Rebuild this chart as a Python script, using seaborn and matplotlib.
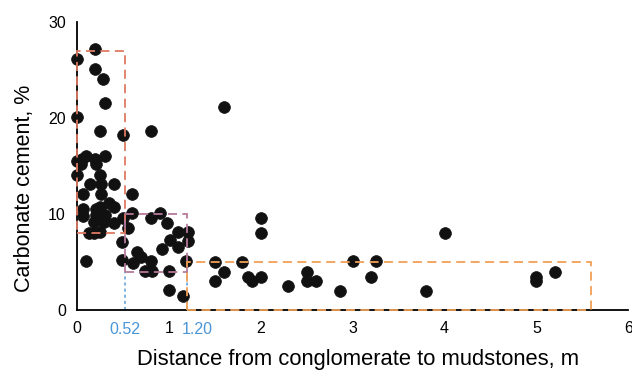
import matplotlib
matplotlib.use("Agg")
import matplotlib.pyplot as plt
import matplotlib.transforms as mtransforms
import seaborn as sns
import pandas as pd
from matplotlib.ticker import MultipleLocator
from matplotlib.patches import Rectangle

# Data: distance (m) and carbonate cement (%)
distance = [
    0.20, 0.00, 0.20, 0.28, 0.30, 0.00, 0.25, 0.50, 0.10, 0.30,
    0.05, 0.20, 0.00, 0.04, 0.21, 0.00, 0.25, 0.14, 0.26, 0.40,
    0.06, 0.26, 0.35, 0.06, 0.21, 0.25, 0.40, 0.06, 0.21, 0.30,
    0.18, 0.29, 0.40, 0.50, 0.13, 0.18, 0.25, 0.10, 0.49, 0.49,
    0.60, 0.60, 0.80, 0.80, 0.90, 0.98, 0.55, 1.10, 1.21, 0.92,
    1.01, 1.10, 1.21, 0.65, 0.70, 0.80, 0.61, 0.74, 0.81, 1.00,
    1.19, 1.00, 1.15,
    1.60, 2.00, 2.00, 1.50, 1.80, 1.60, 1.50, 1.86, 1.90, 2.00,
    2.30, 2.50, 2.50, 2.60, 2.86, 3.00, 3.25, 3.20, 3.80, 4.00,
    5.00, 5.00, 5.20,
]
cement = [
    27.2, 26.1, 25.1, 24.1, 21.6, 20.1, 18.6, 18.2, 16.0, 16.0,
    15.7, 15.7, 15.5, 15.2, 15.2, 14.1, 14.1, 13.1, 13.1, 13.1,
    12.1, 12.1, 11.1, 10.5, 10.5, 10.7, 10.7, 9.8, 9.9, 9.9,
    9.2, 9.2, 9.1, 9.6, 8.0, 8.0, 8.1, 5.1, 7.1, 5.2,
    12.1, 10.1, 18.6, 9.6, 10.1, 9.1, 8.6, 8.1, 8.1, 6.4,
    7.3, 6.6, 7.2, 6.1, 5.5, 5.1, 4.9, 4.1, 4.1, 4.1,
    5.1, 2.1, 1.5,
    21.1, 9.6, 8.0, 5.0, 5.0, 4.0, 3.0, 3.5, 3.0, 3.5,
    2.5, 4.0, 3.0, 3.0, 2.0, 5.1, 5.1, 3.5, 2.0, 8.0,
    3.5, 3.0, 4.0,
]

x_ticks = [0, 1, 2, 3, 4, 5, 6]
x_tick_labels = ["0", "1", "2", "3", "4", "5", "6"]
boundary_x = [0.52, 1.2]
boundary_labels = ["0.52", "1.20"]
boundary_offsets_px = [0, 10]
y_ticks = [0, 10, 20, 30]

# zones: (x0, x1, y0, y1, colour)
zones = [
    (0.0, 0.52, 8, 27, "#de7a62"),
    (0.52, 1.2, 4, 10, "#b5799b"),
    (1.2, 5.6, 0, 5, "#f2a055"),
]

df = pd.DataFrame({"distance": distance, "cement": cement})

sns.set_theme(style="white")
plt.rcParams["font.family"] = ["Liberation Sans", "DejaVu Sans"]

fig = plt.figure(figsize=(6.32, 3.71), dpi=100)
ax = fig.add_axes([0.122, 0.164, 0.872, 0.777])

# blue guide lines
ax.plot([0.52, 0.52], [0, 4], color="#5b9bd5", lw=1.1, ls=(0, (2, 2)), zorder=2)
ax.plot([1.2, 1.2], [0, 5], color="#5b9bd5", lw=1.1, ls=(0, (2, 2)), zorder=2)

for x0, x1, y0, y1, c in zones:
    ax.add_patch(Rectangle((x0, y0), x1 - x0, y1 - y0, fill=False,
                           edgecolor=c, lw=1.3, ls=(0, (5, 3)),
                           zorder=4, clip_on=False))

sns.scatterplot(data=df, x="distance", y="cement", ax=ax, color="#111111",
                s=72, edgecolor="#111111", linewidth=0.5, clip_on=False,
                zorder=3, legend=False)

ax.set_xlim(0, 6)
ax.set_ylim(0, 30)

ax.set_xticks(x_ticks)
ax.set_xticklabels(x_tick_labels)
ax.set_yticks(y_ticks)
ax.xaxis.set_minor_locator(MultipleLocator(0.1))
ax.yaxis.set_minor_locator(MultipleLocator(5))

ax.tick_params(axis="both", which="major", direction="in", length=6, width=1,
               color="black", labelsize=11.5, labelcolor="black")
ax.tick_params(axis="both", which="minor", direction="in", length=3, width=1,
               color="black")
ax.tick_params(axis="x", which="major", pad=8)
ax.tick_params(axis="y", which="major", pad=8)

# blue boundary labels placed like tick labels
base = ax.get_xaxis_transform()
for xv, lab, off in zip(boundary_x, boundary_labels, boundary_offsets_px):
    tr = base + mtransforms.ScaledTranslation(off / 100, -8 / 72 - 0.01,
                                              fig.dpi_scale_trans)
    ax.text(xv, 0, lab, transform=tr, ha="center", va="top",
            fontsize=11.5, color="#4a95d6")

for s in ("top", "right"):
    ax.spines[s].set_visible(False)
for s in ("left", "bottom"):
    ax.spines[s].set_color("black")
    ax.spines[s].set_linewidth(1.3)

ax.set_xlabel("Distance from conglomerate to mudstones, m", fontsize=15.8,
              color="black")
ax.set_ylabel("Carbonate cement, %", fontsize=15.5, color="black")
ax.xaxis.set_label_coords(0.509, -0.135)
ax.yaxis.set_label_coords(-0.076, 0.424)
ax.grid(False)

fig.savefig("out.png", dpi=100)
